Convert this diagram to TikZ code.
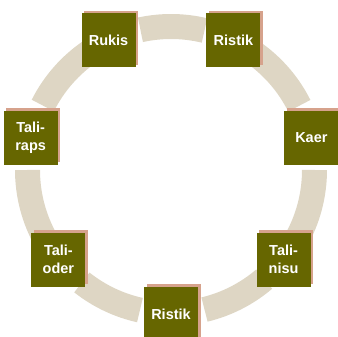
\documentclass[tikz,border=0pt]{standalone}
\usepackage{fontspec}
\setmainfont{Liberation Sans}
\usepackage{xcolor}
\usepackage{tikz}
\usetikzlibrary{shadows}

\definecolor{ringbeige}{RGB}{222,214,196}
\definecolor{boxolive}{RGB}{102,102,0}
\definecolor{shadowpink}{RGB}{214,162,140}

\tikzset{
  cyclebox/.style={rectangle, fill=boxolive, minimum width=54pt, minimum height=54pt,
    inner sep=0pt, text=white, align=center,
    font=\bfseries\fontsize{14.5}{18}\selectfont,
    copy shadow={shadow xshift=2.5pt, shadow yshift=2.5pt, fill=shadowpink, draw=none}},
  ringarc/.style={draw=ringbeige, line width=25pt}
}

\begin{document}
\begin{tikzpicture}[x=1pt, y=1pt]
            \clip (0,0) rectangle (338,337);
            \coordinate (ctr) at (171,167);
            \foreach \sa/\ea in {-76.5/-49.5, -30/0, 26.6/54.5, 76.5/102.3,
                                124/153.3, 180/209.5, 231.6/257.5}
              \draw[ringarc] ([shift={(\sa:143.5)}]ctr)
              arc[start angle=\sa, end angle=\ea, radius=143.5];
            \foreach \ang/\name/\txt in {-90/ristikbot/Ristik, -38.57/talinisu/{Tali-\\nisu},
                12.86/kaer/Kaer, 64.29/ristiktop/Ristik, 115.71/rukis/Rukis,
                167.14/taliraps/{Tali-\\raps}, 218.57/talioder/{Tali-\\oder}}
              \node[cyclebox] (\name) at ([shift={(\ang:144)}]ctr) {\txt};
        \end{tikzpicture}
\end{document}
